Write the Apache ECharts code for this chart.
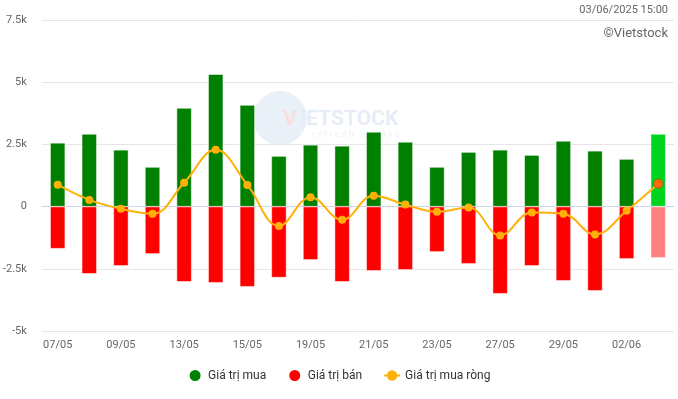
<!DOCTYPE html>
<html>
<head>
<meta charset="utf-8">
<script src="https://cdn.jsdelivr.net/npm/echarts@6/dist/echarts.min.js"></script>
<style>
html, body { margin: 0; padding: 0; background: #fff; }
#chart { width: 678px; height: 399px; }
</style>
</head>
<body>
<div id="chart"></div>
<script>
"use strict";
// Giá trị giao dịch (tỷ đồng)
const days = ["07/05", "08/05", "09/05", "12/05", "13/05", "14/05", "15/05", "16/05", "19/05", "20/05",
    "21/05", "22/05", "23/05", "26/05", "27/05", "28/05", "29/05", "30/05", "02/06", "03/06"];
const buy = [2560, 2920, 2280, 1590, 3960, 5320, 4080, 2030, 2480, 2440,
    3000, 2600, 1590, 2190, 2280, 2070, 2640, 2240, 1910, 2920];
const sell = [-1690, -2700, -2380, -1900, -3020, -3060, -3220, -2850, -2140, -3020,
    -2580, -2540, -1820, -2300, -3500, -2380, -2980, -3380, -2100, -2060];
const net = [880, 270, -90, -290, 960, 2280, 870, -780, 380, -530,
    440, 80, -210, -40, -1160, -240, -290, -1120, -170, 920];
const yTicks = [-5000, 7500, 2500];

const last = days.length - 1;
const fmtK = (v) => v === 0 ? "0" : (v / 1000) + "k";

const chart = echarts.init(document.getElementById("chart"), null, { renderer: "canvas" });
chart.setOption({
    animation: false,
    textStyle: { fontFamily: "Roboto, sans-serif" },
    grid: { left: 41, right: 4, top: 20, bottom: 68 },
    graphic: [
        { type: "text", right: 10, top: 5, style: { text: "03/06/2025 15:00", fill: "#666", font: "11px Roboto" } },
        { type: "text", right: 10, top: 27, style: { text: "©Vietstock", fill: "#666", font: "13px Roboto" } },
        { type: "circle", left: 253, top: 91, z: -1, shape: { r: 27 }, style: { fill: "#eaf0f8" } },
        { type: "text", left: 283, top: 109, z: -1, style: { text: "V", fill: "#f8dede", font: "bold 21px Roboto" } },
        { type: "text", left: 300, top: 109, z: -1, style: { text: "IETSTOCK", fill: "#e6edf6", font: "bold 21px Roboto" } },
        { type: "text", left: 312, top: 130, z: -1, style: { text: "r e f r e s h   a l w a y s", fill: "#edf1f7", font: "9px Roboto" } },
    ],
    legend: {
        bottom: 11,
        left: "center",
        itemGap: 21,
        itemWidth: 16,
        itemHeight: 13,
        textStyle: { color: "#333", fontSize: 12 },
        data: [
            { name: "Giá trị mua", icon: "circle" },
            { name: "Giá trị bán", icon: "circle" },
            { name: "Giá trị mua ròng" },
        ],
    },
    xAxis: {
        type: "category",
        data: days,
        axisLine: { lineStyle: { color: "#ccd6eb" } },
        axisTick: { show: false },
        axisLabel: { interval: 1, color: "#666", fontSize: 11, margin: 9 },
    },
    yAxis: {
        type: "value",
        min: yTicks[0],
        max: yTicks[1],
        interval: yTicks[2],
        axisLabel: { color: "#666", fontSize: 11, margin: 15, formatter: fmtK },
        splitLine: { lineStyle: { color: "#e6e6e6" } },
    },
    series: [
        {
            name: "Giá trị mua",
            type: "bar",
            stack: "gt",
            barWidth: 15,
            itemStyle: { color: "#008000", borderColor: "#fff", borderWidth: 0.5 },
            data: buy.map((v, i) => i === last ? { value: v, itemStyle: { color: "#00d41f" } } : v),
        },
        {
            name: "Giá trị bán",
            type: "bar",
            stack: "gt",
            barWidth: 15,
            itemStyle: { color: "#ff0000", borderColor: "#fff", borderWidth: 0.5 },
            data: sell.map((v, i) => i === last ? { value: v, itemStyle: { color: "#ff8080" } } : v),
        },
        {
            name: "Giá trị mua ròng",
            type: "line",
            smooth: 0.4,
            symbol: "circle",
            symbolSize: 8,
            itemStyle: { color: "#ffb10a" },
            lineStyle: { color: "#ffb10a", width: 2 },
            z: 5,
            data: net.map((v, i) => i === last ? { value: v, symbolSize: 9, itemStyle: { color: "#ff6d0a", borderColor: "#b8541c", borderWidth: 1 } } : v),
        },
    ],
});
</script>
</body>
</html>
